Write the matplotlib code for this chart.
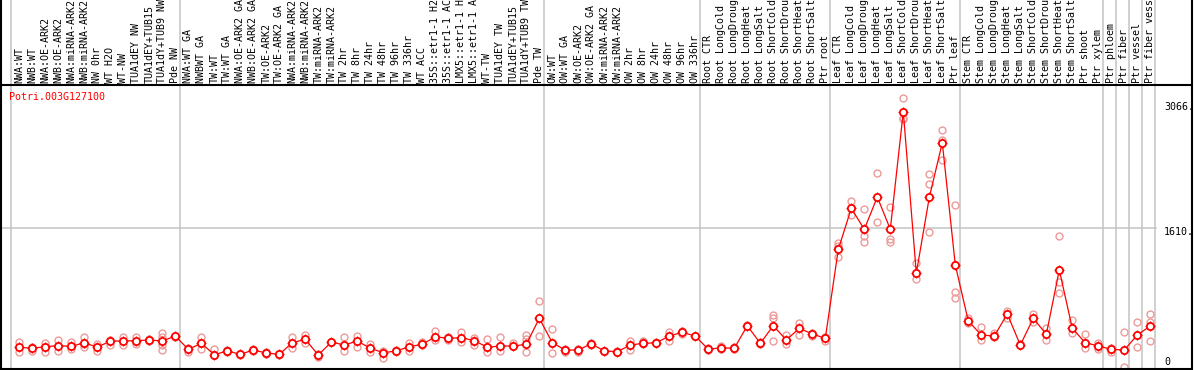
import matplotlib
matplotlib.use("Agg")
import matplotlib.pyplot as plt

labels = [
    "NWA:WT", "NWB:WT", "NWA:OE-ARK2", "NWB:OE-ARK2", "NWA:miRNA-ARK2", "NWB:miRNA-ARK2",
    "NW 0hr", "WT H2O", "WT-NW", "TUA1dEY NW", "TUA1dEY+TUB15", "TUA1dY+TUB9 NW", "Pde NW",
    "NWA:WT GA", "NWBWT GA", "TW:WT", "TW:WT GA", "NWA:OE-ARK2 GA", "NWB:OE-ARK2 GA",
    "TW:OE-ARK2", "TW:OE-ARK2 GA", "NWA:miRNA-ARK2", "NWB:miRNA-ARK2", "TW:miRNA-ARK2",
    "TW:miRNA-ARK2", "TW 2hr", "TW 8hr", "TW 24hr", "TW 48hr", "TW 96hr", "TW 336hr",
    "WT ACC", "35S::etr1-1 H2O", "35S::etr1-1 ACC", "LMX5::etr1-1 H2O", "LMX5::etr1-1 ACC",
    "WT-TW", "TUA1dEY TW", "TUA1dEY+TUB15", "TUA1dY+TUB9 TW", "Pde TW",
    "OW:WT", "OW:WT GA", "OW:OE-ARK2", "OW:OE-ARK2 GA", "OW:miRNA-ARK2", "OW:miRNA-ARK2",
    "OW 2hr", "OW 8hr", "OW 24hr", "OW 48hr", "OW 96hr", "OW 336hr",
    "Root CTR", "Root LongCold", "Root LongDrought", "Root LongHeat", "Root LongSalt",
    "Root ShortCold", "Root ShortDrought", "Root ShortHeat", "Root ShortSalt", "Ptr root",
    "Leaf CTR", "Leaf LongCold", "Leaf LongDrought", "Leaf LongHeat", "Leaf LongSalt",
    "Leaf ShortCold", "Leaf ShortDrought", "Leaf ShortHeat", "Leaf ShortSalt", "Ptr leaf",
    "Stem CTR", "Stem LongCold", "Stem LongDrought", "Stem LongHeat", "Stem LongSalt",
    "Stem ShortCold", "Stem ShortDrought", "Stem ShortHeat", "Stem ShortSalt", "Ptr shoot",
    "Ptr xylem", "Ptr phloem", "Ptr fiber", "Ptr vessel", "Ptr fiber vessel",
]

means = [
    224, 212, 231, 243, 235, 277, 224, 297, 297, 301, 309, 297, 355,
    200, 270, 138, 181, 142, 192, 157, 142, 277, 316, 134, 285, 250, 297, 212, 161, 181, 231,
    258, 347, 328, 336, 301, 224, 239, 239, 258, 561,
    277, 192, 192, 265, 181, 173, 250, 270, 277, 355, 398, 355,
    200, 219, 212, 475, 270, 475, 309, 445, 379, 328,
    1365, 1843, 1598, 1975, 1598, 2968, 1086, 1971, 2607, 1182,
    530, 367, 355, 612, 250, 561, 375, 1124, 445, 277, 239,
    200, 192, 367, 472,
]

replicates = [
    [289, 172], [231, 181], [277, 173], [309, 185], [289, 205], [340, 231, 260],
    [262, 181], [250, 309], [340, 250], [340, 262], [320, 300], [387, 340, 246, 196], [360, 340],
    [215, 165], [340, 200], [200, 130], [190, 170], [150, 135], [200, 185], [165, 150], [150, 135],
    [340, 210], [367, 270], [107, 145], [290, 280], [340, 185], [355, 231], [262, 173],
    [103, 175], [190, 175], [277, 185], [289, 250], [414, 309], [347, 309], [405, 289],
    [328, 250], [316, 173], [347, 181], [270, 235], [367, 316, 173], [767, 355],
    [433, 154], [173, 200], [173, 200], [270, 255], [185], [165, 180], [297, 192], [297, 260],
    [285, 270], [398, 300], [380, 410], [355],
    [210, 190], [235, 200], [225, 200], [480], [285, 260], [600, 561, 301], [367, 262],
    [510, 367], [390, 355], [347, 300],
    [1435, 1279, 1400], [1928, 1765], [1831, 1520, 1447], [2251, 1680], [1855, 1482, 1454],
    [3125, 2899, 2880], [1202, 1019], [2243, 2126, 1563], [2755, 2639, 2406], [1881, 868, 798],
    [565, 510], [460, 309], [390, 340], [647, 561], [260], [608, 522], [445, 309],
    [1520, 988, 853], [542, 394], [375, 212], [277, 204],
    [219, 165], [398, 0], [515, 224], [608, 522, 301],
]

group_starts = [0, 13, 41, 53, 63, 73, 84, 85, 86, 87, 88]
gene = "Potri.003G127100"
axis_values = [3066, 1610, 0]
axis_texts = ["3066.", "1610.", "0"]

W, H = 1194, 370
fig = plt.figure(figsize=(W / 100, H / 100), dpi=100)
ax = fig.add_axes([0, 0, 1, 1])
ax.set_axis_off()

X0, DX = 19.3, 13.0
Y0, DY = 366.5, 11.65


def px2x(px):
    return (px - X0) / DX


def py2y(py):
    return (Y0 - py) * DY


ax.set_xlim(px2x(0), px2x(W))
ax.set_ylim(py2y(H), py2y(0))

font = "DejaVu Sans Mono"
fs = 7.2
grey = "#c4c4c4"

# vertical group separators (full height)
for g in group_starts:
    ax.axvline(g - 0.64, color=grey, lw=1.1, zorder=1)
# horizontal grid line at middle value
ax.plot([px2x(1), px2x(1156)], [1610, 1610], color=grey, lw=1.1, zorder=1)

# frame
ax.plot([px2x(0), px2x(1191)], [py2y(85), py2y(85)], color="black", lw=1.5, zorder=5)
ax.plot([px2x(0), px2x(1191)], [py2y(368.8), py2y(368.8)], color="black", lw=1.5, zorder=5)
ax.axvline(px2x(1.2), color="black", lw=1.5, zorder=5)
ax.axvline(px2x(1191.5), color="black", lw=1.5, zorder=5)

xs = list(range(len(means)))

# replicates
rx, ry = [], []
for i, reps in enumerate(replicates):
    for v in reps:
        rx.append(i)
        ry.append(v)
ax.plot(rx, ry, linestyle="none", marker="o", ms=5.0, mfc="none",
        mec="#ec9a9a", mew=1.0, zorder=2)

# mean line and markers
ax.plot(xs, means, color="red", lw=0.9, zorder=3)
ax.plot(xs, means, linestyle="none", marker="+", ms=7.2, mew=0.9,
        color="red", zorder=3.5)
ax.plot(xs, means, linestyle="none", marker="o", ms=5.2, mfc="white",
        mec="red", mew=1.3, zorder=4)

# sample labels
for i, lab in enumerate(labels):
    ax.text(i, py2y(83), lab, rotation=90, ha="center", va="bottom",
            fontsize=fs, family=font, color="black", zorder=6)

# gene name
ax.text(px2x(9), py2y(97.5), gene, ha="left", va="center", fontsize=fs,
        family=font, color="red", zorder=6)

# right axis labels
for v, t in zip(axis_values, axis_texts):
    yy = py2y(362) if v == 0 else v
    off = 0 if v == 0 else -3.8 * DY
    ax.text(px2x(1164), yy + off, t, ha="left", va="center", fontsize=fs,
            family=font, color="black", zorder=6)

fig.savefig("out.png", dpi=100)
